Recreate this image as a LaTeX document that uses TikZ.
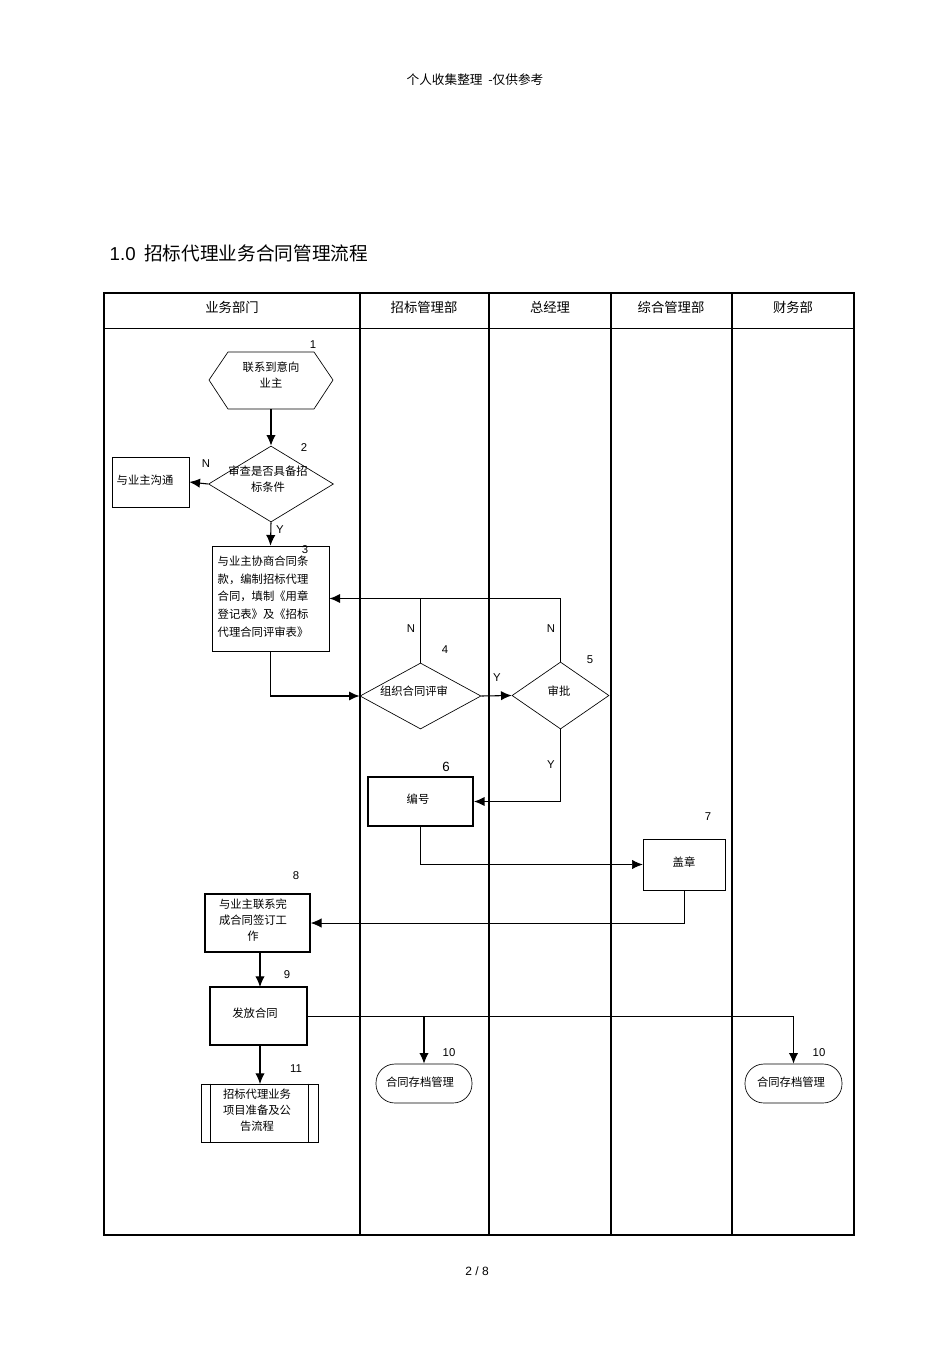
\documentclass[tikz,border=0pt]{standalone}
\usepackage{fontspec}
\setmainfont{Noto Sans CJK SC}
\newfontfamily\latinf{Liberation Sans}
\usetikzlibrary{shapes.geometric,arrows.meta}
\begin{document}
\begin{tikzpicture}[x=0.75pt,y=-0.75pt,
  lbl/.style={font=\fontsize{8.5}{10}\selectfont\latinf,inner sep=0},
  txt/.style={font=\fontsize{8.5}{12}\selectfont,align=center},
  arr/.style={-{Latex[length=8pt,width=7pt]},line width=0.8pt},
  thin/.style={line width=0.5pt},
  lane/.style={line width=1.3pt}]
\useasboundingbox (0,0) rectangle (950,1345);
\node[font=\fontsize{9.5}{11}\selectfont] (hdr) at (475,80) {个人收集整理\ \ -仅供参考};
\node[anchor=west,font=\fontsize{14}{16}\selectfont] (title) at (105,253) {{\latinf 1.0}\ \ 招标代理业务合同管理流程};
\node[font=\fontsize{9}{11}\selectfont\latinf] (page) at (477,1271) {2 / 8};
% table
\draw[lane] (104,293) rectangle (854,1235);
\draw[thin] (104,328) -- (854,328);
\foreach \x in {360,489,611,732} \draw[lane] (\x,293) -- (\x,1235);
\foreach \x/\t in {232/业务部门,424/招标管理部,550/总经理,671/综合管理部,793/财务部}
  \node[txt,font=\fontsize{10}{12}\selectfont] at (\x,307) {\t};
% nodes
\draw[thin] (209,380) -- (228,352) -- (314,352) -- (333,380) -- (314,409) -- (228,409) -- cycle;
\node[txt] (t1) at (271,375) {联系到意向\\业主};
\coordinate (n1b) at (271,409);
\node[lbl] at (313,345) {1};
\node[draw,thin,diamond,aspect=1.65,minimum width=125*0.75pt,minimum height=76*0.75pt,inner sep=0] (n2) at (271,484) {};
\node[txt] at (268,479) {审查是否具备招\\标条件};
\node[lbl] at (304,448) {2};
\node[lbl] at (206,464) {N};
\node[draw,thin,minimum width=77*0.75pt,minimum height=50*0.75pt,inner sep=0] (n2n) at (150.5,482) {};
\node[txt] at (145,480) {与业主沟通};
\node[lbl] at (280,530) {Y};
\node[draw,thin,minimum width=117*0.75pt,minimum height=105*0.75pt,inner sep=0] (n3) at (270.5,598.5) {};
\node[txt,align=left,anchor=north west,font=\fontsize{8.5}{13.3}\selectfont] at (213,551) {与业主协商合同条\\款，编制招标代理\\合同，填制《用章\\登记表》及《招标\\代理合同评审表》};
\node[lbl] at (305,550) {3};
\node[draw,thin,diamond,aspect=1.83,minimum width=121*0.75pt,minimum height=66*0.75pt,inner sep=0] (n4) at (420.5,696) {};
\node[txt] at (414,691) {组织合同评审};
\node[lbl] at (445,650) {4};
\node[draw,thin,diamond,aspect=1.45,minimum width=97*0.75pt,minimum height=67*0.75pt,inner sep=0] (n5) at (560.5,695.5) {};
\node[txt] at (559,691) {审批};
\node[lbl] at (590,660) {5};
\node[lbl] at (497,678) {Y};
\node[lbl] at (411,629) {N};
\node[lbl] at (551,629) {N};
\node[lbl] at (551,765) {Y};
\node[draw,line width=1.3pt,minimum width=105*0.75pt,minimum height=49*0.75pt,inner sep=0] (n6) at (420.5,801.5) {};
\node[txt] at (418,799) {编号};
\node[lbl,font=\fontsize{10}{12}\selectfont\latinf] at (446,767) {6};
\node[draw,thin,minimum width=82*0.75pt,minimum height=51*0.75pt,inner sep=0] (n7) at (684,864.5) {};
\node[txt] at (684,862) {盖章};
\node[lbl] at (708,817) {7};
\node[draw,line width=1.3pt,minimum width=105*0.75pt,minimum height=58*0.75pt,inner sep=0] (n8) at (257.5,923) {};
\node[txt] at (253,920) {与业主联系完\\成合同签订工\\作};
\node[lbl] at (296,876) {8};
\node[draw,line width=1.3pt,minimum width=97*0.75pt,minimum height=58*0.75pt,inner sep=0] (n9) at (258.5,1016) {};
\node[txt] at (255,1013) {发放合同};
\node[lbl] at (287,975) {9};
\node[draw,thin,rounded corners=19*0.75pt,minimum width=96*0.75pt,minimum height=39*0.75pt,inner sep=0] (n10a) at (424,1083.5) {};
\node[txt] at (420,1082) {合同存档管理};
\node[lbl] at (449,1053) {10};
\node[draw,thin,rounded corners=19*0.75pt,minimum width=97*0.75pt,minimum height=39*0.75pt,inner sep=0] (n10b) at (793.5,1083.5) {};
\node[txt] at (791,1082) {合同存档管理};
\node[lbl] at (819,1053) {10};
\node[draw,thin,minimum width=117*0.75pt,minimum height=58*0.75pt,inner sep=0] (n11) at (259.5,1113) {};
\draw[thin] ([xshift=10*0.75pt]n11.north west) -- ([xshift=10*0.75pt]n11.south west)
  ([xshift=-10*0.75pt]n11.north east) -- ([xshift=-10*0.75pt]n11.south east);
\node[txt] at (257,1110) {招标代理业务\\项目准备及公\\告流程};
\node[lbl] at (296,1069) {11};
% connectors
\coordinate (c8) at (260,952);
\coordinate (c9t) at (260,987);
\coordinate (c9b) at (260,1045);
\coordinate (c11) at (260,1084);
\draw[arr] (n1b) -- (n2.north);
\draw[arr] (n2.west) -- (n2n.east);
\draw[arr] (n2.south) -- (n3.north);
\draw[arr,line width=1.2pt] (n3.south) |- (n4.west);
\draw[arr] (n4.east) -- (n5.west);
\draw[thin] (n4.north) -- (420.5,598.5);
\draw[arr,line width=1.2pt] (n5.north) |- (n3.east);
\draw[arr,line width=1.2pt] (n5.south) |- (n6.east);
\draw[arr,thin] (n6.south) |- (n7.west);
\draw[arr,thin] (n7.south) |- (n8.east);
\draw[arr] (c8) -- (c9t);
\draw[thin] (n9.east) -- (793.5,1016);
\draw[arr] (424,1016) -- (n10a.north);
\draw[arr] (793.5,1016) -- (n10b.north);
\draw[arr] (c9b) -- (c11);
\end{tikzpicture}
\end{document}
